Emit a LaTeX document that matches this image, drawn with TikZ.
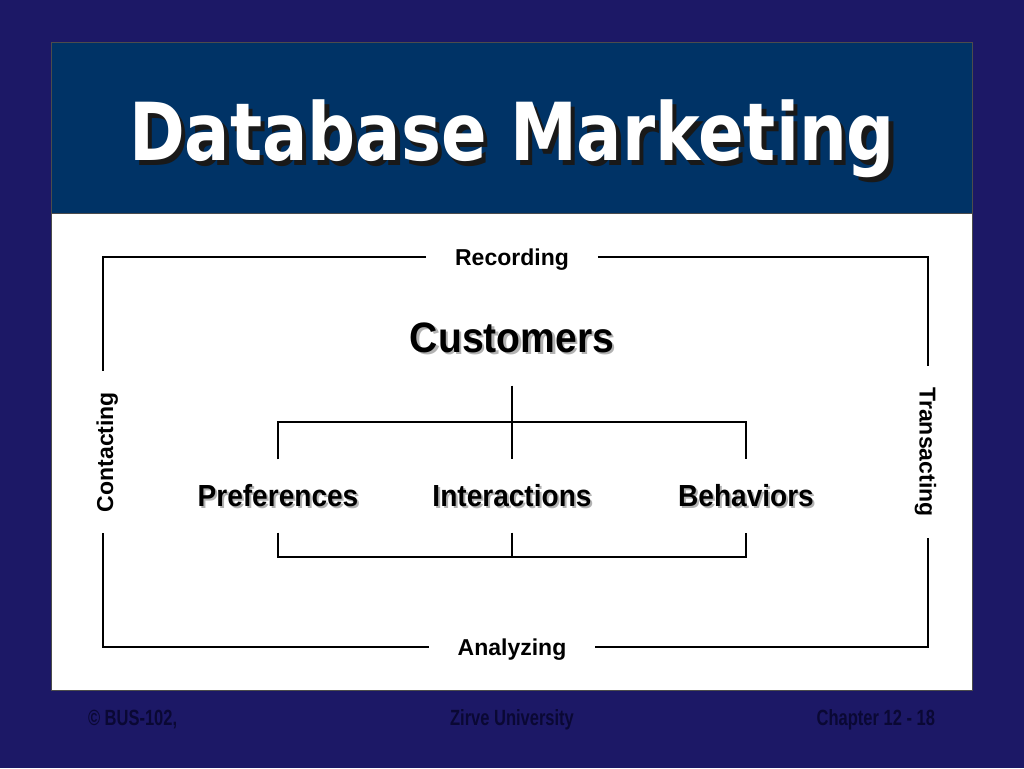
\documentclass[tikz,border=0pt]{standalone}
\usepackage{fontspec}
\setmainfont{Liberation Sans}
\newfontfamily\titlefont[FakeStretch=0.84]{DejaVu Sans}
\newfontfamily\narrowfont[FakeStretch=0.92]{Liberation Sans}
\newfontfamily\footfont[FakeStretch=0.75]{Liberation Sans}
\usepackage{tikz}
\definecolor{slatenavy}{RGB}{28,24,102}
\definecolor{bandblue}{RGB}{0,51,102}
\definecolor{footnavy}{RGB}{10,8,52}
\newcommand{\castshadow}[3]{\rlap{\kern#3\smash{\raisebox{-#3}{\textcolor{#2}{#1}}}}#1}

\begin{document}
\begin{tikzpicture}[x=1pt, y=-1pt, line width=2pt,
        stage/.style={inner xsep=28pt, inner ysep=0pt, text depth=0pt, font=\bfseries\fontsize{23}{23}\selectfont},
        sidestage/.style={stage, inner xsep=20pt},
        leaf/.style={inner xsep=0pt, inner ysep=24.5pt, font=\narrowfont\bfseries\fontsize{30.5}{30.5}\selectfont},
        foot/.style={text=footnavy, inner sep=0pt, font=\footfont\bfseries\fontsize{22}{22}\selectfont}]
        \useasboundingbox (0,0) rectangle (1024,768);
        \fill[slatenavy] (0,0) rectangle (1024,768);
        \draw[fill=white, draw=black!70, line width=1pt] (51,43) rectangle (972,690);
        \draw[fill=bandblue, draw=black!70, line width=1pt] (51,43) rectangle (972,213);

        \node[text=white] (title) at (512,139) {\titlefont\bfseries\fontsize{80}{80}\selectfont\castshadow{Database Marketing}{black!90}{4.5pt}};

        \node[leaf] (pref) at (278,496) {\castshadow{Preferences}{black!30}{2pt}};
        \node[leaf] (inter) at (512,496) {\castshadow{Interactions}{black!30}{2pt}};
        \node[leaf] (beh) at (746,496) {\castshadow{Behaviors}{black!30}{2pt}};
        \node[leaf, inner ysep=32pt, font=\narrowfont\bfseries\fontsize{42.5}{42.5}\selectfont] (cust) at (512,337.5) {\castshadow{Customers}{black!30}{2.5pt}};

        \node[stage] (rec) at (512,257) {Recording};
        \node[stage] (ana) at (512,647) {Analyzing};
        \node[sidestage, rotate=90, text height=20pt] (con) at (103,452) {Contacting};
        \node[sidestage, rotate=-90] (tra) at (928,452) {Transacting};

        \path (cust) edge (inter);
        \draw (pref.north) -- ++(0,-37) -| (beh.north);
        \draw (pref.south) -- ++(0,24) -| (beh.south);
        \draw (inter.south) -- ++(0,24);

        \draw (rec.west) -| (con.east);
        \draw (rec.east) -| (tra.west);
        \draw (ana.west) -| (con.west);
        \draw (ana.east) -| (tra.east);

        \node[foot, anchor=base west] (copy) at (87,725) {© BUS-102,};
        \node[foot, anchor=base] (uni) at (512,725) {Zirve University};
        \node[foot, anchor=base east] (chap) at (936,725) {Chapter 12 - 18};
\end{tikzpicture}
\end{document}
